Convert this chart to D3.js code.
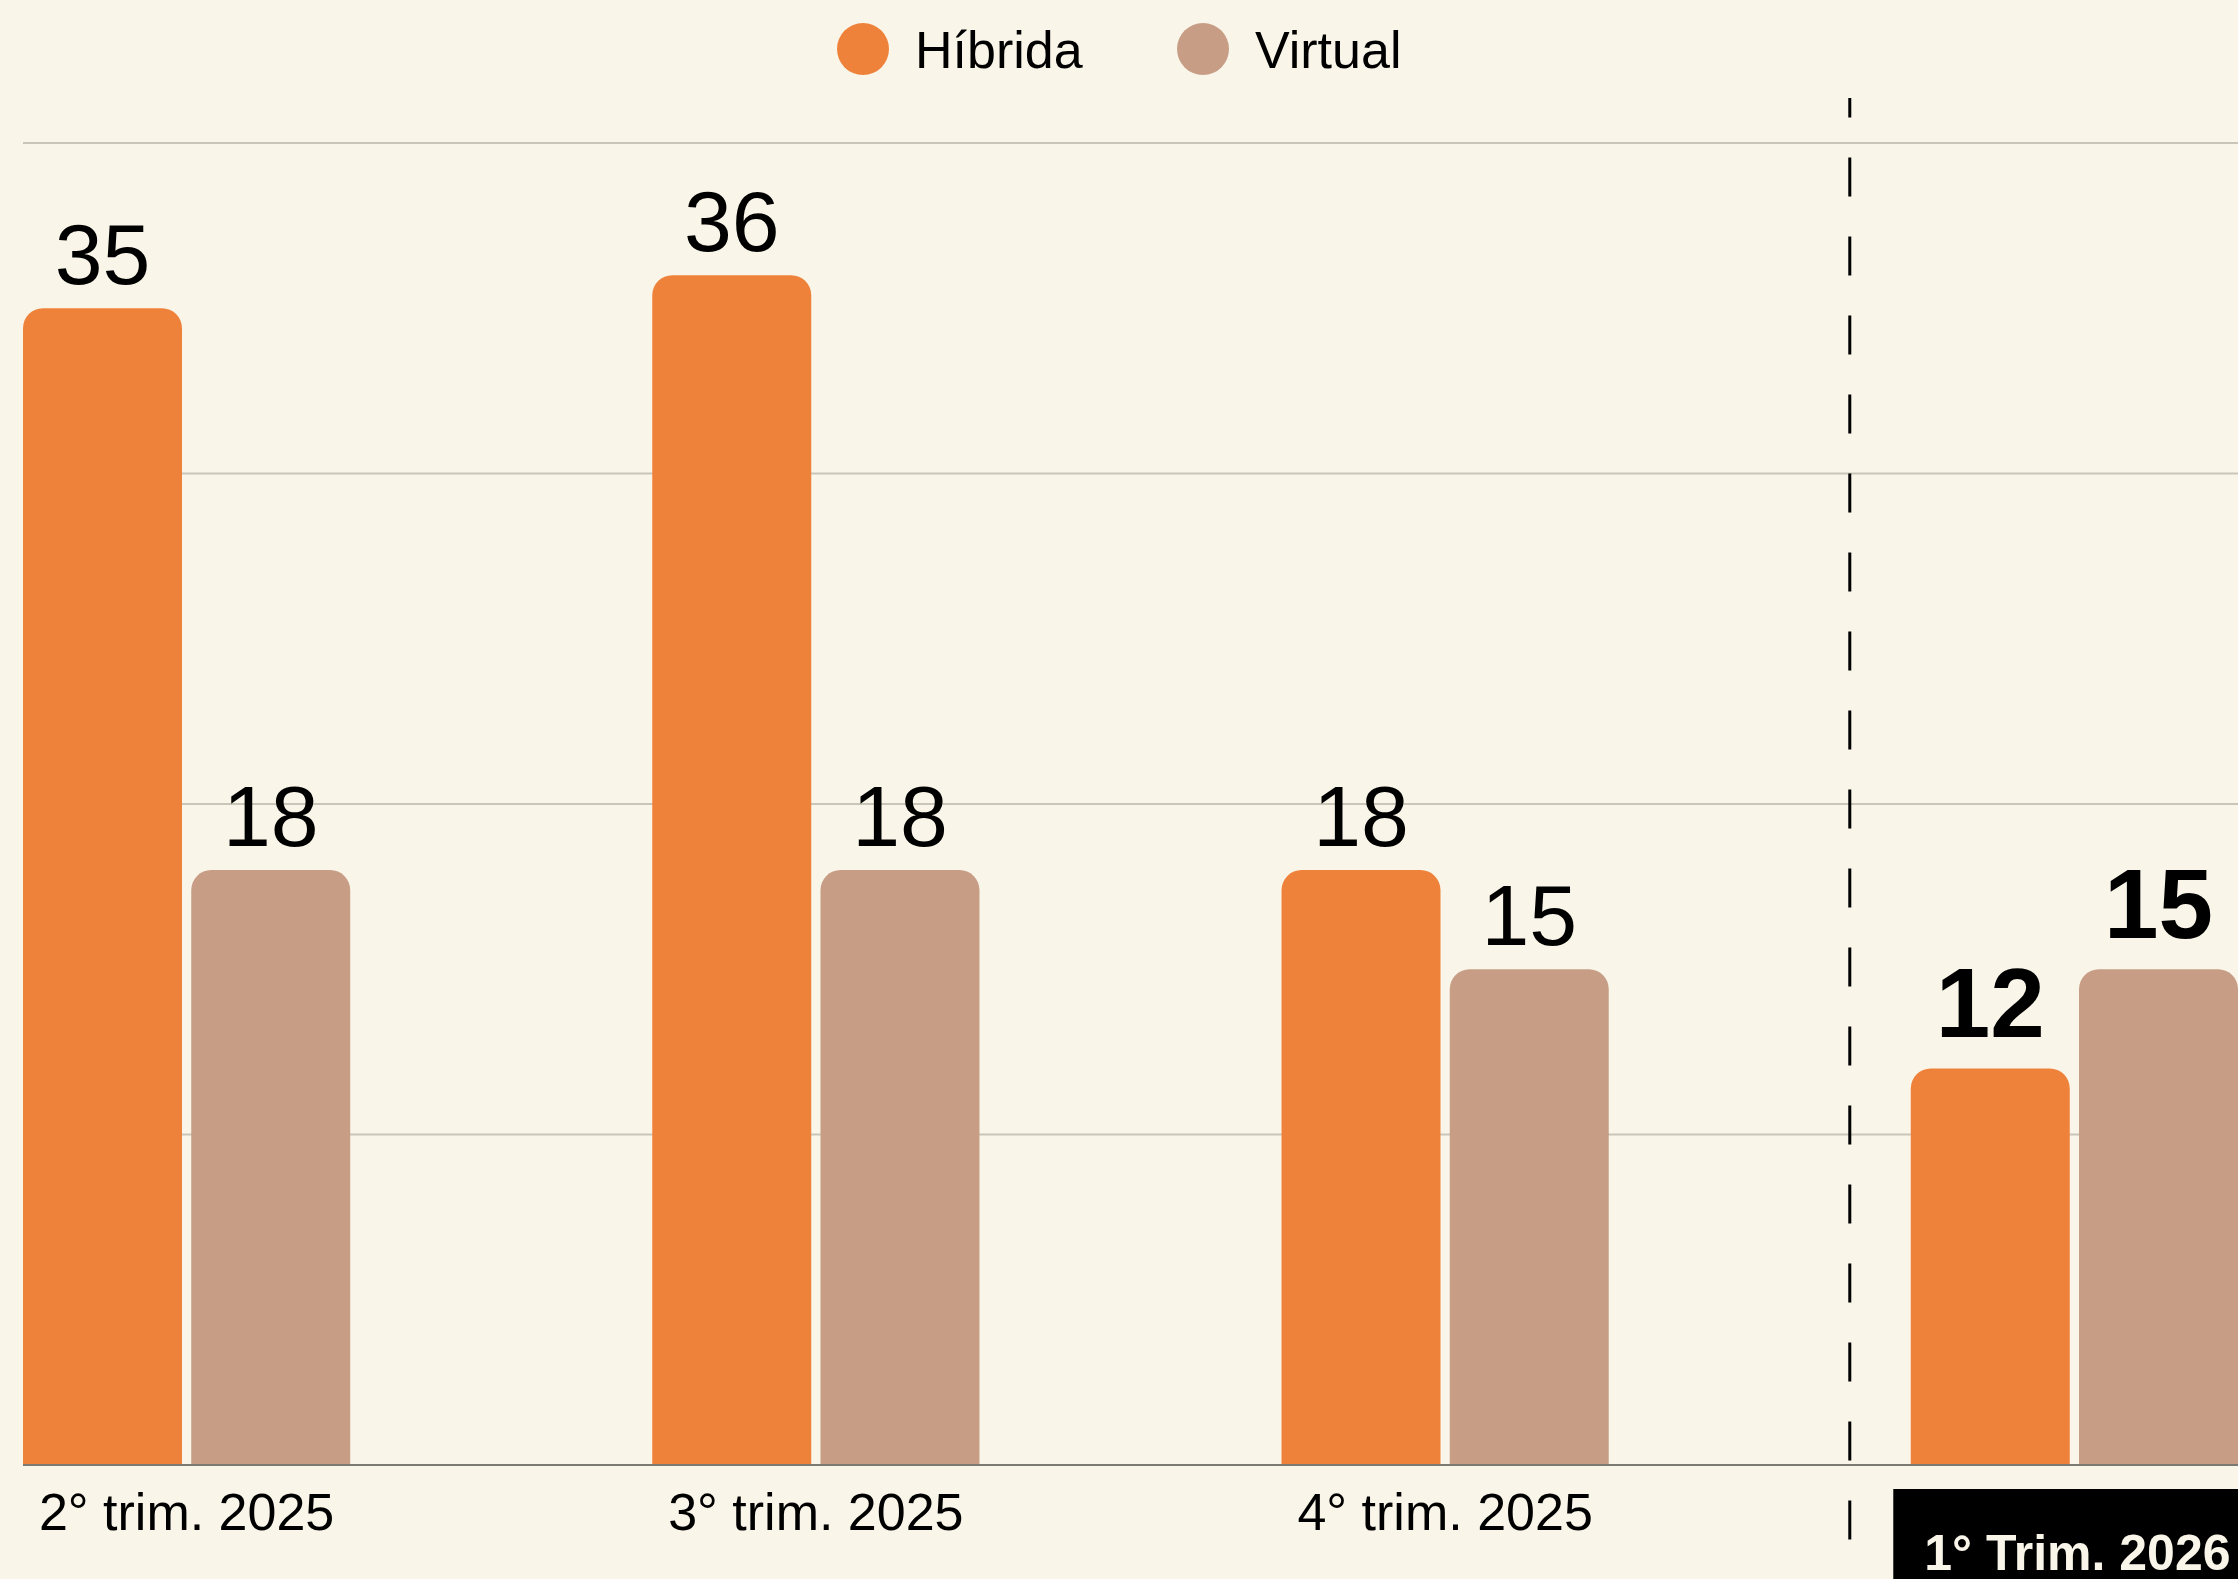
<!DOCTYPE html>
<html>
<head>
<meta charset="utf-8">
<style>
  body {
    margin: 0;
    background: #f9f5e8;
  }
  svg {
    display: block;
    font-family: "Liberation Sans", Arial, sans-serif;
  }
</style>
</head>
<body>
<div id="chart"></div>
<script src="https://d3js.org/d3.v7.min.js"></script>
<script>
// data
const quarters = ["2° trim. 2025", "3° trim. 2025", "4° trim. 2025", "1° Trim. 2026"];
const series = ["Híbrida", "Virtual"];
const hibrida = [35, 36, 18, 12];
const virtual = [18, 18, 15, 15];
const yTicks = [10, 20, 30, 40];
const colors = ["#ef823a", "#c79d86"];

const width = 2238, height = 1579;
const last = quarters[quarters.length - 1];

const svg = d3.select("#chart").append("svg")
    .attr("width", width)
    .attr("height", height);

svg.append("rect")
    .attr("width", width)
    .attr("height", height)
    .attr("fill", "#f9f5e8");

const x0 = d3.scaleBand()
    .domain(quarters)
    .range([23, 2238])
    .paddingInner(0.48)
    .paddingOuter(0);

const x1 = d3.scaleBand()
    .domain(series)
    .range([0, x0.bandwidth()])
    .paddingInner(0.055);

const y = d3.scaleLinear()
    .domain([0, 40])
    .range([1465, 143]);

const color = d3.scaleOrdinal().domain(series).range(colors);

// gridlines
svg.append("g")
  .selectAll("line")
  .data(yTicks)
  .join("line")
    .attr("x1", 23)
    .attr("x2", width)
    .attr("y1", d => y(d))
    .attr("y2", d => y(d))
    .attr("stroke", "#c9c6b9")
    .attr("stroke-width", 2);

// rows of grouped data
const rows = quarters.map((q, i) => ({
  quarter: q,
  values: [
    {key: series[0], value: hibrida[i]},
    {key: series[1], value: virtual[i]}
  ]
}));

// bar with rounded top corners only
function topRounded(x, y0, w, h, r) {
  r = Math.min(r, h, w / 2);
  return `M${x},${y0 + h}V${y0 + r}A${r},${r} 0 0 1 ${x + r},${y0}H${x + w - r}A${r},${r} 0 0 1 ${x + w},${y0 + r}V${y0 + h}Z`;
}

const groups = svg.append("g")
  .selectAll("g")
  .data(rows)
  .join("g")
    .attr("transform", d => `translate(${x0(d.quarter)},0)`);

groups.selectAll("path")
  .data(d => d.values.map(v => Object.assign({quarter: d.quarter}, v)))
  .join("path")
    .attr("d", d => topRounded(x1(d.key), y(d.value), x1.bandwidth(), y(0) - y(d.value), 20))
    .attr("fill", d => color(d.key));

groups.selectAll("text.value")
  .data(d => d.values.map(v => Object.assign({quarter: d.quarter}, v)))
  .join("text")
    .attr("class", "value")
    .attr("x", d => x1(d.key) + x1.bandwidth() / 2)
    .attr("y", d => y(d.value) - (d.quarter === last ? 31 : 24))
    .attr("text-anchor", "middle")
    .attr("font-size", d => d.quarter === last ? 98 : 86)
    .attr("font-weight", d => d.quarter === last ? "bold" : "normal")
    .attr("fill", "#000")
    .text(d => d.value);

// baseline
svg.append("line")
    .attr("x1", 23)
    .attr("x2", width)
    .attr("y1", y(0))
    .attr("y2", y(0))
    .attr("stroke", "#7a7a72")
    .attr("stroke-width", 2);

// dashed separator before the last quarter
const sepX = x0(last) - 61;
svg.append("line")
    .attr("x1", sepX)
    .attr("x2", sepX)
    .attr("y1", 98)
    .attr("y2", height)
    .attr("stroke", "#000")
    .attr("stroke-width", 3)
    .attr("stroke-dasharray", "39,40")
    .attr("stroke-dashoffset", 19.5);

// x labels
svg.append("g")
  .selectAll("text")
  .data(quarters.filter(q => q !== last))
  .join("text")
    .attr("x", d => x0(d) + x0.bandwidth() / 2)
    .attr("y", 1530)
    .attr("text-anchor", "middle")
    .attr("font-size", 52)
    .attr("fill", "#000")
    .text(d => d);

// highlighted last label
svg.append("rect")
    .attr("x", x0(last) - 17.5)
    .attr("y", 1489)
    .attr("width", 400)
    .attr("height", 120)
    .attr("fill", "#000");

svg.append("text")
    .attr("x", x0(last) + x0.bandwidth() / 2 + 3)
    .attr("y", 1570)
    .attr("text-anchor", "middle")
    .attr("font-size", 50)
    .attr("font-weight", "bold")
    .attr("fill", "#f9f5e8")
    .text(last);

// legend
const legendX = [863, 1203];
const legend = svg.append("g")
  .selectAll("g")
  .data(series)
  .join("g")
    .attr("transform", (d, i) => `translate(${legendX[i]},49)`);

legend.append("circle")
    .attr("r", 26)
    .attr("fill", d => color(d));

legend.append("text")
    .attr("x", 52)
    .attr("y", 19)
    .attr("font-size", 52)
    .attr("fill", "#000")
    .text(d => d);
</script>
</body>
</html>
